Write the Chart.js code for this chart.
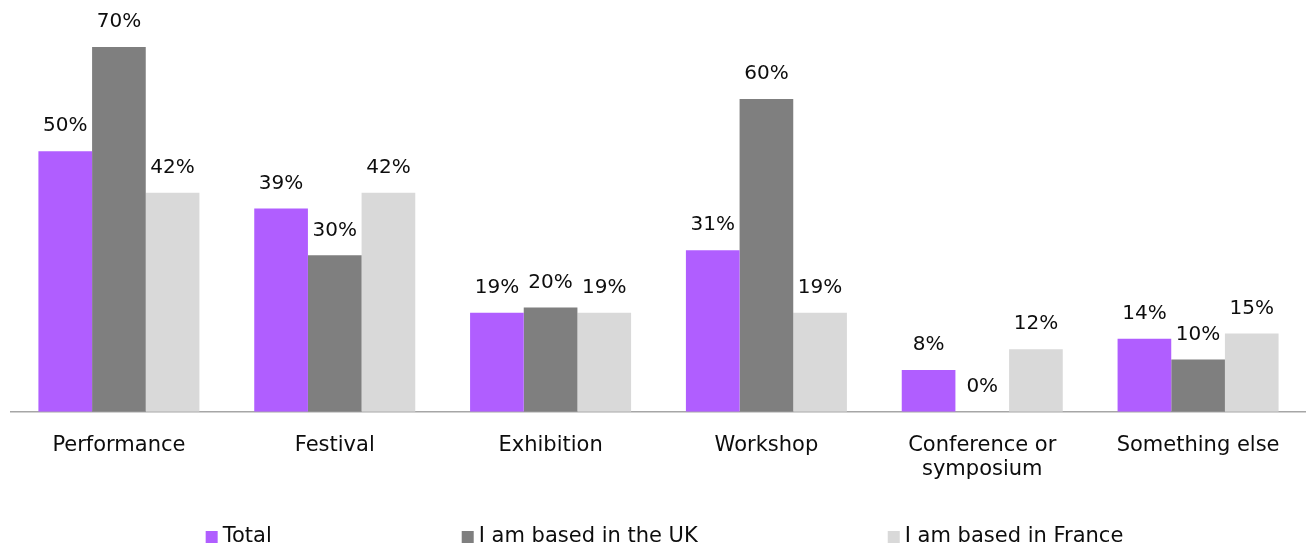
<!DOCTYPE html>
<html>
<head>
<meta charset="utf-8">
<script src="https://cdn.jsdelivr.net/npm/chart.js@4.4.1/dist/chart.umd.min.js"></script>
<style>
  html, body { margin: 0; padding: 0; background: #fff; }
</style>
</head>
<body>
<canvas id="chart" width="1306" height="551"></canvas>
<script>
const categories = ['Performance', 'Festival', 'Exhibition', 'Workshop', ['Conference or', 'symposium'], 'Something else'];
const totalValues = [50, 39, 19, 31, 8, 14];
const ukValues = [70, 30, 20, 60, 0, 10];
const franceValues = [42, 42, 19, 19, 12, 15];
const seriesNames = ['Total', 'I am based in the UK', 'I am based in France'];

const seriesColors = ['#B05EFF', '#7F7F7F', '#D9D9D9'];
const FONT = "'DejaVu Sans', sans-serif";

// value labels above each bar
const barLabels = {
  id: 'barLabels',
  afterDatasetsDraw(chart) {
    const ctx = chart.ctx;
    ctx.save();
    ctx.font = '20px ' + FONT;
    ctx.fillStyle = '#0D0D0D';
    ctx.textAlign = 'center';
    ctx.textBaseline = 'middle';
    chart.data.datasets.forEach((ds, i) => {
      chart.getDatasetMeta(i).data.forEach((bar, j) => {
        ctx.fillText(ds.data[j] + '%', bar.x, bar.y - 25);
      });
    });
    ctx.restore();
  }
};

// Excel-like legend: small squares, wide fixed gaps, centred
const wideLegend = {
  id: 'wideLegend',
  afterDraw(chart) {
    const ctx = chart.ctx;
    const box = 12, gap = 5, between = 190;
    const y = 537;
    ctx.save();
    ctx.font = '21px ' + FONT;
    ctx.textBaseline = 'middle';
    ctx.textAlign = 'left';
    const items = chart.data.datasets.map(ds => ({
      label: ds.label,
      color: ds.backgroundColor,
      w: box + gap + ctx.measureText(ds.label).width
    }));
    const full = items.reduce((s, it) => s + it.w, 0) + between * (items.length - 1);
    const area = chart.chartArea;
    let x = (area.left + area.right) / 2 - full / 2 + 6;
    items.forEach(it => {
      ctx.fillStyle = it.color;
      ctx.fillRect(x, y - box / 2, box, box);
      ctx.fillStyle = '#0D0D0D';
      ctx.fillText(it.label, x + box + gap, y);
      x += it.w + between;
    });
    ctx.restore();
  }
};

new Chart(document.getElementById('chart'), {
  type: 'bar',
  data: {
    labels: categories,
    datasets: [
      { label: seriesNames[0], data: totalValues, backgroundColor: seriesColors[0] },
      { label: seriesNames[1], data: ukValues, backgroundColor: seriesColors[1] },
      { label: seriesNames[2], data: franceValues, backgroundColor: seriesColors[2] }
    ]
  },
  options: {
    responsive: false,
    animation: false,
    devicePixelRatio: 1,
    layout: { padding: { left: 11, right: 0, top: 0, bottom: 47 } },
    datasets: { bar: { categoryPercentage: 0.746, barPercentage: 1.0 } },
    plugins: {
      legend: { display: false },
      tooltip: { enabled: false }
    },
    scales: {
      x: {
        grid: { display: false, drawTicks: false },
        border: { display: true, color: '#A6A6A6', width: 1.5 },
        ticks: {
          color: '#0D0D0D',
          padding: 22,
          maxRotation: 0,
          autoSkip: false,
          font: { family: FONT, size: 21, lineHeight: 1.15 }
        }
      },
      y: {
        display: false,
        min: 0,
        max: 79
      }
    }
  },
  plugins: [barLabels, wideLegend]
});
</script>
</body>
</html>
